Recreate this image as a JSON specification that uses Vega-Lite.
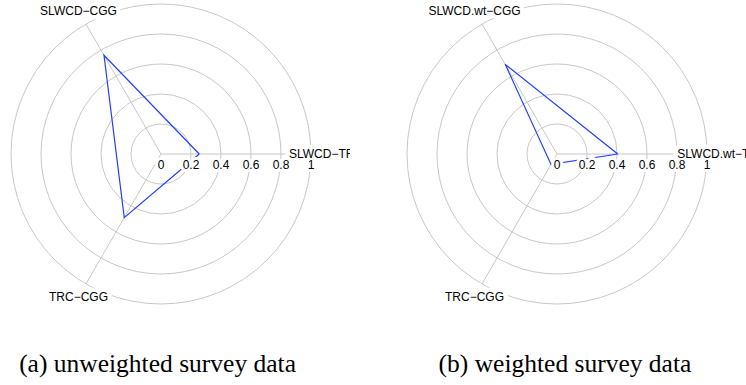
{
  "$schema": "https://vega.github.io/schema/vega-lite/v6.json",
  "background": "white",
  "padding": 0,
  "spacing": 23,
  "config": {"view": {"stroke": null}},
  "datasets": {
    "rings": [{"r": 0.2}, {"r": 0.4}, {"r": 0.6}, {"r": 0.8}, {"r": 1}],
    "ticks": [
      {"label": "0", "r": 0}, {"label": "0.2", "r": 0.2}, {"label": "0.4", "r": 0.4},
      {"label": "0.6", "r": 0.6}, {"label": "0.8", "r": 0.8}, {"label": "1", "r": 1}
    ],
    "axesA": [
      {"axis": "SLWCD−TRC", "angle": 0},
      {"axis": "SLWCD−CGG", "angle": 120},
      {"axis": "TRC−CGG", "angle": 240}
    ],
    "axesB": [
      {"axis": "SLWCD.wt−TRC", "angle": 0},
      {"axis": "SLWCD.wt−CGG", "angle": 120},
      {"axis": "TRC−CGG", "angle": 240}
    ],
    "scoresA": [
      {"axis": "SLWCD−TRC", "angle": 0, "value": 0.255, "step": 1},
      {"axis": "SLWCD−CGG", "angle": 120, "value": 0.76, "step": 2},
      {"axis": "TRC−CGG", "angle": 240, "value": 0.49, "step": 3},
      {"axis": "SLWCD−TRC", "angle": 0, "value": 0.255, "step": 4}
    ],
    "scoresB": [
      {"axis": "SLWCD.wt−TRC", "angle": 0, "value": 0.405, "step": 1},
      {"axis": "SLWCD.wt−CGG", "angle": 120, "value": 0.69, "step": 2},
      {"axis": "TRC−CGG", "angle": 240, "value": 0.08, "step": 3},
      {"axis": "SLWCD.wt−TRC", "angle": 0, "value": 0.405, "step": 4}
    ],
    "capA": [{"caption": "(a) unweighted survey data"}],
    "capB": [{"caption": "(b) weighted survey data"}]
  },
  "hconcat": [
    {
      "width": 350,
      "height": 385,
      "layer": [
        {
          "data": {"name": "rings"},
          "mark": {"type": "point", "shape": "circle", "filled": false, "color": "#c8c8c8", "strokeWidth": 1, "opacity": 1},
          "encoding": {
            "x": {"datum": 0, "type": "quantitative", "scale": {"domain": [-1.0733, 1.26], "nice": false, "zero": false}, "axis": null},
            "y": {"datum": 0, "type": "quantitative", "scale": {"domain": [-1.54, 1.0267], "nice": false, "zero": false}, "axis": null},
            "size": {"field": "r", "type": "quantitative", "scale": {"type": "pow", "exponent": 2, "domain": [0, 1], "range": [0, 90000]}, "legend": null}
          }
        },
        {
          "data": {"name": "axesA"},
          "transform": [
            {"calculate": "cos(datum.angle*PI/180)", "as": "ex"},
            {"calculate": "sin(datum.angle*PI/180)", "as": "ey"}
          ],
          "mark": {"type": "rule", "color": "#c8c8c8", "strokeWidth": 1},
          "encoding": {
            "x": {"field": "ex", "type": "quantitative"},
            "y": {"field": "ey", "type": "quantitative"},
            "x2": {"datum": 0},
            "y2": {"datum": 0}
          }
        },
        {
          "data": {"name": "scoresA"},
          "transform": [
            {"calculate": "datum.value*cos(datum.angle*PI/180)", "as": "px"},
            {"calculate": "datum.value*sin(datum.angle*PI/180)", "as": "py"}
          ],
          "mark": {"type": "line", "color": "#1f3fff", "strokeWidth": 1.2},
          "encoding": {
            "x": {"field": "px", "type": "quantitative"},
            "y": {"field": "py", "type": "quantitative"},
            "order": {"field": "step", "type": "quantitative"}
          }
        },
        {
          "data": {"name": "ticks"},
          "mark": {"type": "text", "font": "Liberation Sans", "fontSize": 12, "baseline": "alphabetic", "align": "center", "dy": 15, "fill": "white", "stroke": "white", "strokeWidth": 6, "strokeJoin": "round", "clip": true},
          "encoding": {
            "x": {"field": "r", "type": "quantitative"},
            "y": {"datum": 0, "type": "quantitative"},
            "text": {"field": "label"}
          }
        },
        {
          "data": {"name": "axesA"},
          "transform": [
            {"calculate": "1.1*cos(datum.angle*PI/180)", "as": "lx"},
            {"calculate": "1.1*sin(datum.angle*PI/180)", "as": "ly"}
          ],
          "mark": {"type": "text", "font": "Liberation Sans", "fontSize": 12, "baseline": "middle", "align": "center", "fill": "white", "stroke": "white", "strokeWidth": 9, "strokeJoin": "round", "clip": true},
          "encoding": {
            "x": {"field": "lx", "type": "quantitative"},
            "y": {"field": "ly", "type": "quantitative"},
            "text": {"field": "axis"}
          }
        },
        {
          "data": {"name": "ticks"},
          "mark": {"type": "text", "font": "Liberation Sans", "fontSize": 12, "baseline": "alphabetic", "align": "center", "dy": 15, "fill": "black", "clip": true},
          "encoding": {
            "x": {"field": "r", "type": "quantitative"},
            "y": {"datum": 0, "type": "quantitative"},
            "text": {"field": "label"}
          }
        },
        {
          "data": {"name": "axesA"},
          "transform": [
            {"calculate": "1.1*cos(datum.angle*PI/180)", "as": "lx"},
            {"calculate": "1.1*sin(datum.angle*PI/180)", "as": "ly"}
          ],
          "mark": {"type": "text", "font": "Liberation Sans", "fontSize": 12, "baseline": "middle", "align": "center", "fill": "black", "clip": true},
          "encoding": {
            "x": {"field": "lx", "type": "quantitative"},
            "y": {"field": "ly", "type": "quantitative"},
            "text": {"field": "axis"}
          }
        },
        {
          "data": {"name": "capA"},
          "mark": {"type": "text", "font": "Liberation Serif", "fontSize": 25.5, "baseline": "alphabetic", "align": "center", "fill": "black"},
          "encoding": {
            "x": {"datum": -0.023, "type": "quantitative"},
            "y": {"datum": -1.453, "type": "quantitative"},
            "text": {"field": "caption"}
          }
        }
      ]
    },
    {
      "width": 373,
      "height": 385,
      "layer": [
        {
          "data": {"name": "rings"},
          "mark": {"type": "point", "shape": "circle", "filled": false, "color": "#c8c8c8", "strokeWidth": 1, "opacity": 1},
          "encoding": {
            "x": {"datum": 0, "type": "quantitative", "scale": {"domain": [-1.2267, 1.26], "nice": false, "zero": false}, "axis": null},
            "y": {"datum": 0, "type": "quantitative", "scale": {"domain": [-1.54, 1.0267], "nice": false, "zero": false}, "axis": null},
            "size": {"field": "r", "type": "quantitative", "scale": {"type": "pow", "exponent": 2, "domain": [0, 1], "range": [0, 90000]}, "legend": null}
          }
        },
        {
          "data": {"name": "axesB"},
          "transform": [
            {"calculate": "cos(datum.angle*PI/180)", "as": "ex"},
            {"calculate": "sin(datum.angle*PI/180)", "as": "ey"}
          ],
          "mark": {"type": "rule", "color": "#c8c8c8", "strokeWidth": 1},
          "encoding": {
            "x": {"field": "ex", "type": "quantitative"},
            "y": {"field": "ey", "type": "quantitative"},
            "x2": {"datum": 0},
            "y2": {"datum": 0}
          }
        },
        {
          "data": {"name": "scoresB"},
          "transform": [
            {"calculate": "datum.value*cos(datum.angle*PI/180)", "as": "px"},
            {"calculate": "datum.value*sin(datum.angle*PI/180)", "as": "py"}
          ],
          "mark": {"type": "line", "color": "#1f3fff", "strokeWidth": 1.2},
          "encoding": {
            "x": {"field": "px", "type": "quantitative"},
            "y": {"field": "py", "type": "quantitative"},
            "order": {"field": "step", "type": "quantitative"}
          }
        },
        {
          "data": {"name": "ticks"},
          "mark": {"type": "text", "font": "Liberation Sans", "fontSize": 12, "baseline": "alphabetic", "align": "center", "dy": 15, "fill": "white", "stroke": "white", "strokeWidth": 6, "strokeJoin": "round", "clip": true},
          "encoding": {
            "x": {"field": "r", "type": "quantitative"},
            "y": {"datum": 0, "type": "quantitative"},
            "text": {"field": "label"}
          }
        },
        {
          "data": {"name": "axesB"},
          "transform": [
            {"calculate": "1.1*cos(datum.angle*PI/180)", "as": "lx"},
            {"calculate": "1.1*sin(datum.angle*PI/180)", "as": "ly"}
          ],
          "mark": {"type": "text", "font": "Liberation Sans", "fontSize": 12, "baseline": "middle", "align": "center", "fill": "white", "stroke": "white", "strokeWidth": 9, "strokeJoin": "round", "clip": true},
          "encoding": {
            "x": {"field": "lx", "type": "quantitative"},
            "y": {"field": "ly", "type": "quantitative"},
            "text": {"field": "axis"}
          }
        },
        {
          "data": {"name": "ticks"},
          "mark": {"type": "text", "font": "Liberation Sans", "fontSize": 12, "baseline": "alphabetic", "align": "center", "dy": 15, "fill": "black", "clip": true},
          "encoding": {
            "x": {"field": "r", "type": "quantitative"},
            "y": {"datum": 0, "type": "quantitative"},
            "text": {"field": "label"}
          }
        },
        {
          "data": {"name": "axesB"},
          "transform": [
            {"calculate": "1.1*cos(datum.angle*PI/180)", "as": "lx"},
            {"calculate": "1.1*sin(datum.angle*PI/180)", "as": "ly"}
          ],
          "mark": {"type": "text", "font": "Liberation Sans", "fontSize": 12, "baseline": "middle", "align": "center", "fill": "black", "clip": true},
          "encoding": {
            "x": {"field": "lx", "type": "quantitative"},
            "y": {"field": "ly", "type": "quantitative"},
            "text": {"field": "axis"}
          }
        },
        {
          "data": {"name": "capB"},
          "mark": {"type": "text", "font": "Liberation Serif", "fontSize": 25.5, "baseline": "alphabetic", "align": "center", "fill": "black"},
          "encoding": {
            "x": {"datum": 0.053, "type": "quantitative"},
            "y": {"datum": -1.453, "type": "quantitative"},
            "text": {"field": "caption"}
          }
        }
      ]
    }
  ]
}
